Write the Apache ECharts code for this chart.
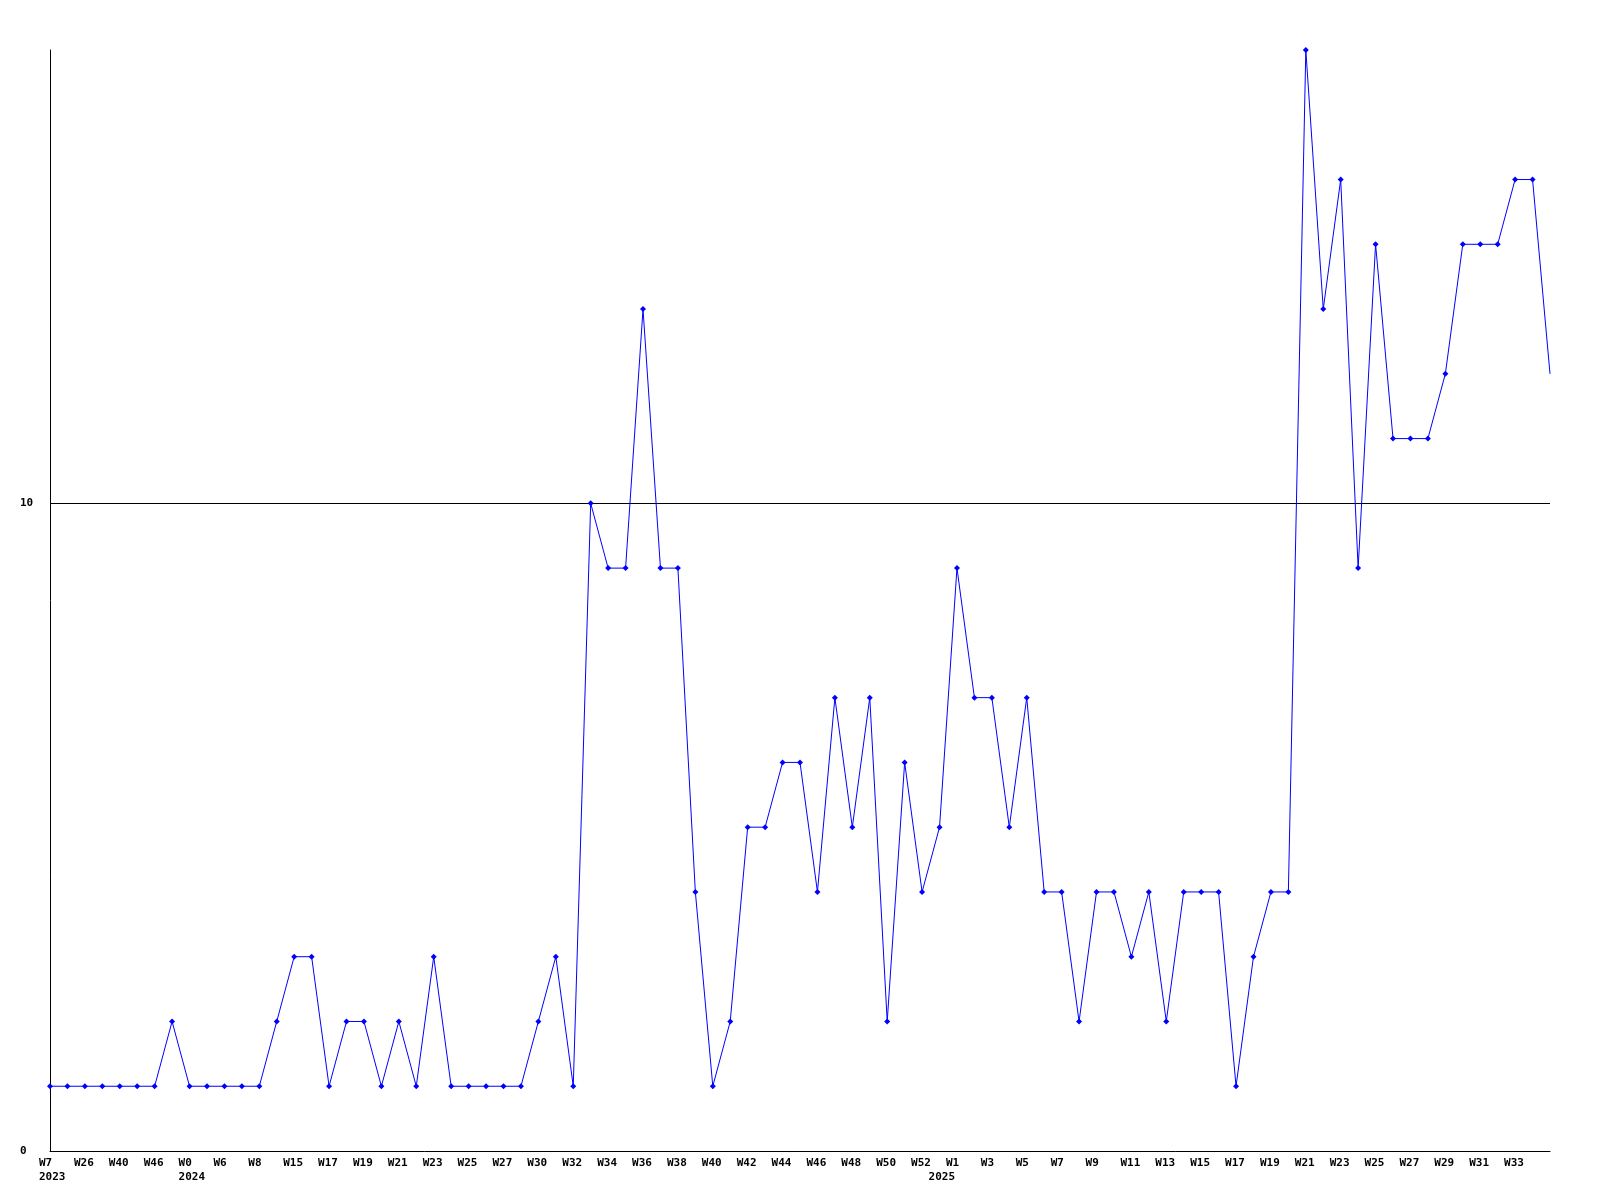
<!DOCTYPE html>
<html>
<head>
<meta charset="utf-8">
<script src="https://cdn.jsdelivr.net/npm/echarts@6/dist/echarts.min.js"></script>
<style>html,body{margin:0;padding:0;background:#fff}#c{width:1600px;height:1200px}</style>
</head>
<body>
<div id="c"></div>
<script>
// Week categories (every other one is labelled on the axis)
const weeks = ['W7','W25','W26','W39','W40','W45','W46','W52','W0','W5',
  'W6','W7','W8','W14','W15','W16','W17','W18','W19','W20',
  'W21','W22','W23','W24','W25','W26','W27','W29','W30','W31',
  'W32','W33','W34','W35','W36','W37','W38','W39','W40','W41',
  'W42','W43','W44','W45','W46','W47','W48','W49','W50','W51',
  'W52','W0','W1','W2','W3','W4','W5','W6','W7','W8',
  'W9','W10','W11','W12','W13','W14','W15','W16','W17','W18',
  'W19','W20','W21','W22','W23','W24','W25','W26','W27','W28',
  'W29','W30','W31','W32','W33','W34','W35'];
// Year marks: category index where each year starts
const yearIndex = [0, 8, 51];
const yearLabel = ['2023', '2024', '2025'];
// Series values
const values = [1,1,1,1,1,1,1,2,1,1,
  1,1,1,2,3,3,1,2,2,1,
  2,1,3,1,1,1,1,1,2,3,
  1,10,9,9,13,9,9,4,1,2,
  5,5,6,6,4,7,5,7,2,6,
  4,5,9,7,7,5,7,4,4,2,
  4,4,3,4,2,4,4,4,1,3,
  4,4,17,13,15,9,14,11,11,11,
  12,14,14,14,15,15,12];
// Y axis
const yMin = 0, yMax = 17, yInterval = 10;

const font = {fontFamily: 'DejaVu Sans Mono', fontWeight: 'bold', fontSize: 11, color: '#000'};
const lastIndex = values.length - 1;
const chart = echarts.init(document.getElementById('c'), null, {renderer: 'canvas'});
chart.setOption({
  animation: false,
  backgroundColor: '#fff',
  grid: {left: 50, right: 50, top: 50, bottom: 49, containLabel: false},
  xAxis: {
    type: 'category',
    boundaryGap: false,
    data: weeks,
    axisLine: {show: true, lineStyle: {color: '#000', width: 1}},
    axisTick: {show: false},
    splitLine: {show: false},
    axisLabel: Object.assign({}, font, {
      interval: 0,
      margin: 5,
      lineHeight: 14,
      align: 'left',
      padding: [0, 0, 0, -11],
      hideOverlap: false,
      formatter: function (v, i) {
        const show = (i % 2 === 0) && i !== lastIndex;
        const yi = yearIndex.indexOf(i);
        if (yi >= 0) return (show ? v : ' ') + '\n' + yearLabel[yi];
        return show ? v : '';
      }
    })
  },
  yAxis: {
    type: 'value',
    min: yMin, max: yMax, interval: yInterval,
    axisLine: {show: true, lineStyle: {color: '#000', width: 1}},
    axisTick: {show: false},
    axisLabel: Object.assign({}, font, {align: 'left', margin: 30, showMaxLabel: false}),
    splitLine: {show: true, showMinLine: false, showMaxLine: false, lineStyle: {color: '#000', width: 1}}
  },
  series: [{
    type: 'line',
    data: values,
    color: '#0000ff',
    lineStyle: {color: '#0000ff', width: 1},
    itemStyle: {color: '#0000ff'},
    symbol: function (val, params) { return params.dataIndex === lastIndex ? 'none' : 'diamond'; },
    symbolSize: 6,
    showAllSymbol: true
  }]
});
</script>
</body>
</html>
